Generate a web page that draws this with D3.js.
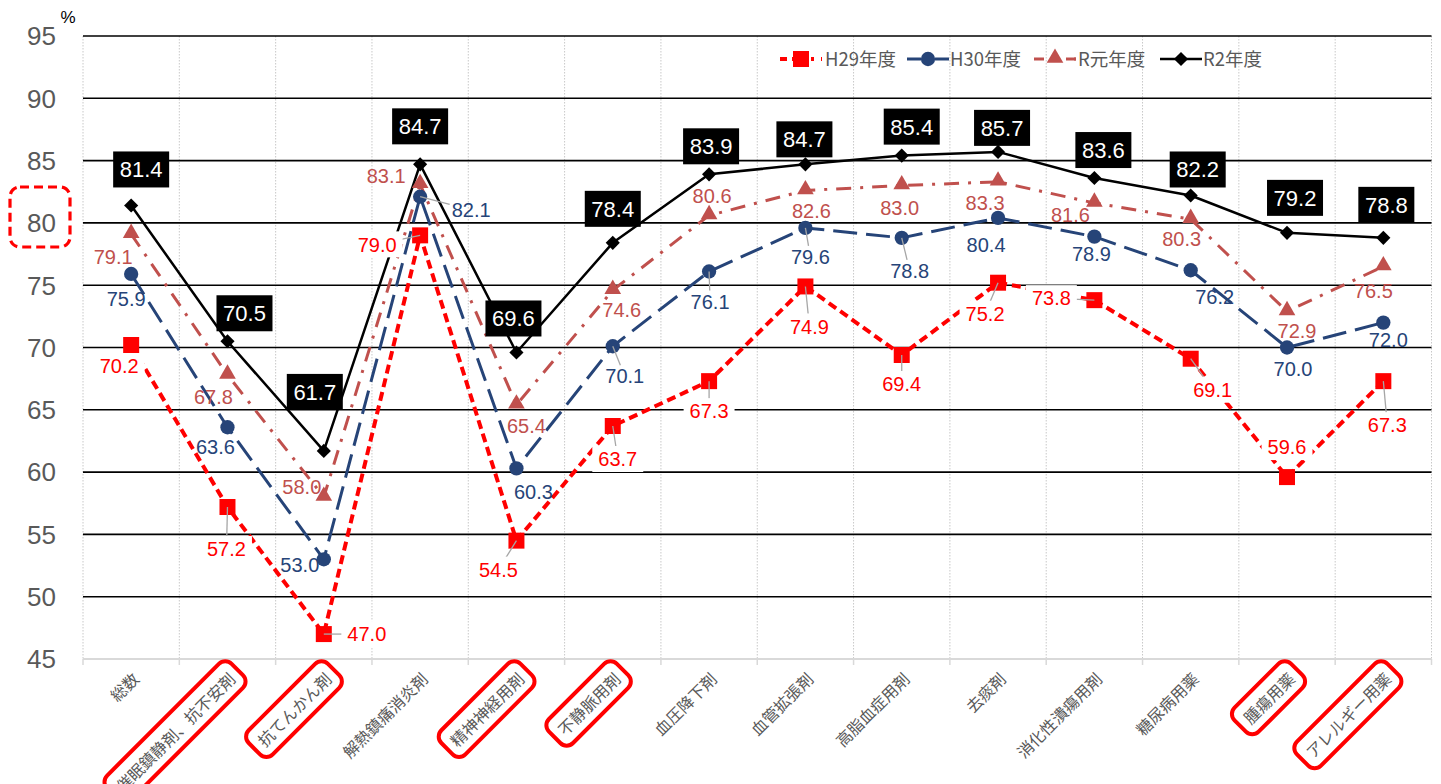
<!DOCTYPE html>
<html><head><meta charset="utf-8">
<script src="https://cdn.jsdelivr.net/npm/d3@7"></script>
<style>
html,body{margin:0;padding:0;background:#fff;}
svg{display:block;}
</style></head>
<body>
<svg id="chart" width="1441" height="784"></svg>
<script>
// ---------- data ----------
const categories = ["総数","催眠鎮静剤、抗不安剤","抗てんかん剤","解熱鎮痛消炎剤","精神神経用剤","不静脈用剤","血圧降下剤","血管拡張剤","高脂血症用剤","去痰剤","消化性潰瘍用剤","糖尿病用薬","腫瘍用薬","アレルギー用薬"];
const highlightedCategories = ["催眠鎮静剤、抗不安剤","抗てんかん剤","精神神経用剤","不静脈用剤","腫瘍用薬","アレルギー用薬"];
const yTicks = [45,50,55,60,65,70,75,80,85,90,95];
const seriesNames = ["H29年度","H30年度","R元年度","R2年度"];
const valuesH29 = [70.2,57.2,47.0,79.0,54.5,63.7,67.3,74.9,69.4,75.2,73.8,69.1,59.6,67.3];
const valuesH30 = [75.9,63.6,53.0,82.1,60.3,70.1,76.1,79.6,78.8,80.4,78.9,76.2,70.0,72.0];
const valuesR1  = [79.1,67.8,58.0,83.1,65.4,74.6,80.6,82.6,83.0,83.3,81.6,80.3,72.9,76.5];
const valuesR2  = [81.4,70.5,61.7,84.7,69.6,78.4,83.9,84.7,85.4,85.7,83.6,82.2,79.2,78.8];

// label placement (offset of label centre from point, px) and leader-line flags
const labelPosH29 = [[-12,21],[-1,42],[43,0],[-43,9],[-18,29],[5,33],[0,30],[4,40],[0,29],[-13,31],[-43,-2],[22,31],[0,-30],[4,44]];
const leaderH29   = [0,1,1,1,1,1,1,1,1,1,1,1,0,1];
const labelPosH30 = [[-5,25],[-12,20],[-24,5],[51,13],[17,23],[12,30],[1,30],[5,29],[8,33],[-12,27],[-3,17],[24,27],[6,21],[5,17]];
const leaderH30   = [0,0,0,1,0,1,1,1,1,0,0,0,0,0];
const labelPosR1  = [[-18,23],[-14,22],[-22,-10],[-34,-8],[10,21],[9,20],[3,-20],[6,20],[-2,22],[-13,21],[-24,12],[-9,20],[10,19],[-10,24]];
const leaderR1    = [0,0,0,0,0,0,0,0,0,0,0,0,0,0];
const labelPosR2  = [[10,-36],[17,-28],[-9,-59],[0,-38],[-3,-34],[0,-34],[2,-28],[-1,-25],[10,-29],[4,-24],[9,-28],[7,-26],[8,-35],[3,-33]];

// ---------- setup ----------
const svg = d3.select("#chart");
const plotLeft = 83, plotRight = 1431.5, plotTop = 36, plotBottom = 659;
const x = d3.scaleBand().domain(categories).range([plotLeft, plotRight]).padding(0);
const y = d3.scaleLinear().domain([45,95]).range([plotBottom, plotTop]);
const cx = c => x(c) + x.bandwidth()/2;
const grey = "#595959";
const numFont = "'Liberation Sans', Arial, sans-serif";
const jpFont = "'Noto Sans CJK JP', 'Noto Sans', sans-serif";

// vertical dotted gridlines at category boundaries
const bounds = categories.map(c => x(c)).concat([plotRight]);
svg.append("g").selectAll("line").data(bounds).join("line")
  .attr("x1", d=>d).attr("x2", d=>d).attr("y1", plotTop).attr("y2", plotBottom)
  .attr("stroke", "#c8c8c8").attr("stroke-width", 1).attr("stroke-dasharray", "1.5,1.5");

// horizontal gridlines
svg.append("g").selectAll("line").data(yTicks).join("line")
  .attr("x1", plotLeft).attr("x2", plotRight).attr("y1", d=>y(d)).attr("y2", d=>y(d))
  .attr("stroke", d => d===45 ? "#d9d9d9" : "#000").attr("stroke-width", d => d===45 ? 2 : 1.6);

// x tick marks
svg.append("g").selectAll("line").data(bounds).join("line")
  .attr("x1", d=>d).attr("x2", d=>d).attr("y1", plotBottom).attr("y2", plotBottom+6)
  .attr("stroke", "#d9d9d9").attr("stroke-width", 1.5);

// y tick labels
svg.append("g").selectAll("text").data(yTicks).join("text")
  .attr("x", 56).attr("y", d=>y(d)).attr("dy","0.36em")
  .attr("text-anchor","end").attr("font-family", numFont).attr("font-size", 26).attr("fill", grey)
  .text(d=>d);
svg.append("text").attr("x", 68).attr("y", 23).attr("text-anchor","middle")
  .attr("font-family", numFont).attr("font-size", 17).attr("fill", "#000").text("%");
// dashed highlight around 80
svg.append("rect").attr("x", 10).attr("y", 187).attr("width", 60).attr("height", 60)
  .attr("rx", 10).attr("fill","none").attr("stroke","#ff0000").attr("stroke-width",3.2)
  .attr("stroke-dasharray","9,5");

// category labels
const catG = svg.append("g");
categories.forEach(c => {
  const g = catG.append("g").attr("transform", `translate(${cx(c)+6},${677}) rotate(-45)`);
  const t = g.append("text").attr("text-anchor","end").attr("dominant-baseline","middle")
    .attr("font-family", jpFont).attr("font-size", 16).attr("fill", grey).text(c);
  if (highlightedCategories.includes(c)) {
    const b = t.node().getBBox();
    g.insert("rect","text").attr("x", b.x-8).attr("y", b.y-5).attr("width", b.width+16).attr("height", b.height+10)
      .attr("rx", 9).attr("fill","none").attr("stroke","#ff0000").attr("stroke-width",4);
  }
});

// ---------- series ----------
const series = [
  {name: seriesNames[0], values: valuesH29, color:"#ff0000", width:4, dash:"9,5", sym: d3.symbol().type(d3.symbolSquare).size(256), rot:0, pos: labelPosH29, leader: leaderH29, bg:true},
  {name: seriesNames[1], values: valuesH30, color:"#264478", width:3, dash:"24,9", sym: d3.symbol().type(d3.symbolCircle).size(160), rot:0, pos: labelPosH30, leader: leaderH30},
  {name: seriesNames[2], values: valuesR1, color:"#c0504d", width:3, dash:"15,9,3,9", sym: d3.symbol().type(d3.symbolTriangle).size(120), rot:0, pos: labelPosR1, leader: leaderR1},
  {name: seriesNames[3], values: valuesR2, color:"#000000", width:2.5, dash:null, sym: d3.symbol().type(d3.symbolSquare).size(100), rot:45, pos: labelPosR2, leader: null, box:true}
];

const line = d3.line().x((d,i)=>cx(categories[i])).y(d=>y(d));
const linesG = svg.append("g"), markersG = svg.append("g"), leadG = svg.append("g"), labelsG = svg.append("g");

series.forEach((s,si) => {
  linesG.append("path").attr("d", line(s.values)).attr("fill","none")
    .attr("stroke", s.color).attr("stroke-width", s.width)
    .attr("stroke-dasharray", s.dash).attr("stroke-linejoin","round");
  markersG.append("g").selectAll("path").data(s.values).join("path")
    .attr("d", s.sym())
    .attr("transform", (d,i)=>`translate(${cx(categories[i])},${y(d) + (si===2?-1:0)}) rotate(${s.rot})`)
    .attr("fill", s.color);
});

series.forEach(s => {
  s.values.forEach((v,i) => {
    const px = cx(categories[i]), py = y(v);
    const lx = px + s.pos[i][0], ly = py + s.pos[i][1];
    const g = labelsG.append("g");
    const t = g.append("text").attr("x", lx).attr("y", ly).attr("dy","0.36em").attr("text-anchor","middle")
      .attr("font-family", numFont).attr("font-size", s.box ? 22 : 20)
      .attr("fill", s.box ? "#fff" : s.color).text(v.toFixed(1));
    const b = t.node().getBBox();
    if (s.box) {
      g.insert("rect","text").attr("x", lx-28).attr("y", ly-18).attr("width",56).attr("height",36).attr("fill","#000");
    } else if (s.bg) {
      g.insert("rect","text").attr("x", b.x-6).attr("y", ly-13).attr("width", b.width+12).attr("height", 26).attr("fill","#fff");
    }
    if (s.leader && s.leader[i]) {
      const hw = b.width/2 + 2, hh = 11;
      const dx = px - lx, dy = py - ly;
      const tt = Math.min(hw/Math.abs(dx||1e-6), hh/Math.abs(dy||1e-6));
      const ex = lx + dx*tt, ey = ly + dy*tt;
      leadG.append("line").attr("x1", ex).attr("y1", ey).attr("x2", px).attr("y2", py)
        .attr("stroke","#a6a6a6").attr("stroke-width",1.3);
    }
  });
});

// ---------- legend ----------
const legendItems = [
  {i:0, lx:780, tx:825},
  {i:1, lx:907, tx:950},
  {i:2, lx:1034, tx:1078},
  {i:3, lx:1160, tx:1203}
];
const legG = svg.append("g");
legendItems.forEach(it => {
  const s = series[it.i];
  const ly = 59;
  legG.append("line").attr("x1", it.lx).attr("x2", it.lx+42).attr("y1", ly).attr("y2", ly)
    .attr("stroke", s.color).attr("stroke-width", s.width)
    .attr("stroke-dasharray", it.i===0 ? "7,5,14,5,3" : it.i===1 ? "14,4,6,4,14" : it.i===2 ? "10,30" : null);
  if (it.i===2) legG.append("line").attr("x1", it.lx+32).attr("x2", it.lx+42).attr("y1", ly).attr("y2", ly)
    .attr("stroke", s.color).attr("stroke-width", s.width);
  legG.append("path").attr("d", s.sym()).attr("transform", `translate(${it.lx+21},${ly + (it.i===2?-1:0)}) rotate(${s.rot})`).attr("fill", s.color);
  legG.append("text").attr("x", it.tx).attr("y", ly).attr("dy","0.36em")
    .attr("font-family", jpFont).attr("font-size", 18.5).attr("fill", grey).text(s.name);
});
</script>
</body></html>
